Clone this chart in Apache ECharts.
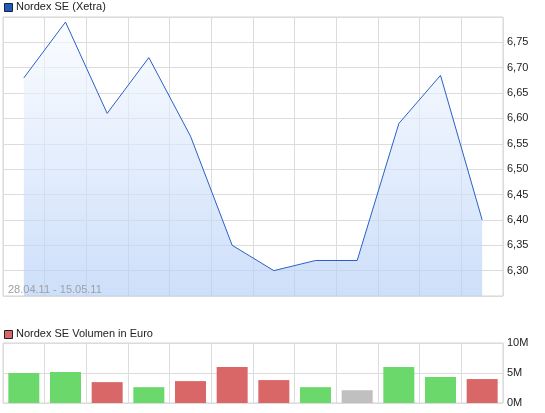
<!DOCTYPE html>
<html>
<head>
<meta charset="utf-8">
<script src="https://cdn.jsdelivr.net/npm/echarts@6/dist/echarts.min.js"></script>
<style>
  html, body { margin: 0; padding: 0; background: #fff; }
  #chart { width: 545px; height: 413px; }
</style>
</head>
<body>
<div id="chart"></div>
<script>
  var days = ['28.', '29.', '02.\nMai', '03.', '04.', '05.', '06.', '09.', '10.', '11.', '12.', '13.'];
  var prices = [6.68, 6.79, 6.61, 6.72, 6.565, 6.35, 6.30, 6.32, 6.32, 6.59, 6.685, 6.40];
  var volumes = [5.0, 5.17, 3.48, 2.64, 3.65, 6.0, 3.82, 2.64, 2.13, 6.0, 4.33, 3.99]; // Mio. Euro
  var moves = ['up', 'up', 'down', 'up', 'down', 'down', 'down', 'up', 'flat', 'up', 'up', 'down'];

  var moveColor = { up: '#6ad86a', down: '#da6767', flat: '#c0c0c0' };
  var font = 'Liberation Sans, Arial, sans-serif';
  var gridLine = { show: true, lineStyle: { color: '#dcdcdc', width: 1 } };

  var chart = echarts.init(document.getElementById('chart'));
  chart.setOption({
    animation: false,
    textStyle: { fontFamily: font },
    grid: [
      { left: 3, right: 42, top: 17, bottom: 117, show: true, borderColor: '#d4d4d4', borderWidth: 1 },
      { left: 3, right: 42, top: 343, bottom: 10, show: true, borderColor: '#d4d4d4', borderWidth: 1 }
    ],
    graphic: [
      { type: 'rect', left: 4, top: 3, shape: { width: 8, height: 8 }, style: { fill: '#2159c4', stroke: '#222', lineWidth: 1 } },
      { type: 'text', left: 16, top: 1, style: { text: 'Nordex SE (Xetra)', fill: '#222', font: '11px ' + font } },
      { type: 'rect', left: 4, top: 330, shape: { width: 8, height: 8 }, style: { fill: '#da6767', stroke: '#222', lineWidth: 1 } },
      { type: 'text', left: 16, top: 328, style: { text: 'Nordex SE Volumen in Euro', fill: '#222', font: '11px ' + font } },
      { type: 'text', left: 8, top: 284, z: 10, style: { text: '28.04.11 - 15.05.11', fill: '#a0a0a0', font: '11px ' + font } }
    ],
    xAxis: [
      {
        type: 'value', gridIndex: 0, min: -0.5, max: 11.5, interval: 1,
        axisLine: { show: false }, axisTick: { show: false },
        splitLine: gridLine,
        axisLabel: {
          color: '#222', fontSize: 11, margin: 6, lineHeight: 13,
          formatter: function (v) { return days[v] !== undefined && v === Math.round(v) ? days[v] : ''; }
        }
      },
      {
        type: 'value', gridIndex: 1, min: -0.5, max: 11.5, interval: 1,
        axisLine: { show: false }, axisTick: { show: false }, axisLabel: { show: false },
        splitLine: gridLine
      }
    ],
    yAxis: [
      {
        type: 'value', gridIndex: 0, position: 'right', min: 6.25, max: 6.8, interval: 0.05,
        axisLine: { show: false }, axisTick: { show: false },
        splitLine: gridLine,
        axisLabel: {
          color: '#222', fontSize: 11, margin: 4,
          formatter: function (v) {
            if (v < 6.29 || v > 6.79) return '';
            return v.toFixed(2).replace('.', ',');
          }
        }
      },
      {
        type: 'value', gridIndex: 1, position: 'right', min: 0, max: 10, interval: 5,
        axisLine: { show: false }, axisTick: { show: false },
        splitLine: gridLine,
        axisLabel: { color: '#222', fontSize: 11, margin: 4, formatter: '{value}M' }
      }
    ],
    series: [
      {
        type: 'line', xAxisIndex: 0, yAxisIndex: 0,
        data: prices.map(function (p, i) { return [i, p]; }),
        symbol: 'none',
        lineStyle: { color: '#2a5fc8', width: 1 },
        areaStyle: {
          origin: 'start',
          color: new echarts.graphic.LinearGradient(0, 0, 0, 1, [
            { offset: 0, color: 'rgba(248,251,255,0.95)' },
            { offset: 1, color: 'rgba(180,206,246,0.95)' }
          ])
        }
      },
      {
        type: 'bar', xAxisIndex: 1, yAxisIndex: 1, barWidth: 31,
        data: volumes.map(function (v, i) {
          return { value: [i, v], itemStyle: { color: moveColor[moves[i]] } };
        })
      }
    ]
  });
</script>
</body>
</html>
